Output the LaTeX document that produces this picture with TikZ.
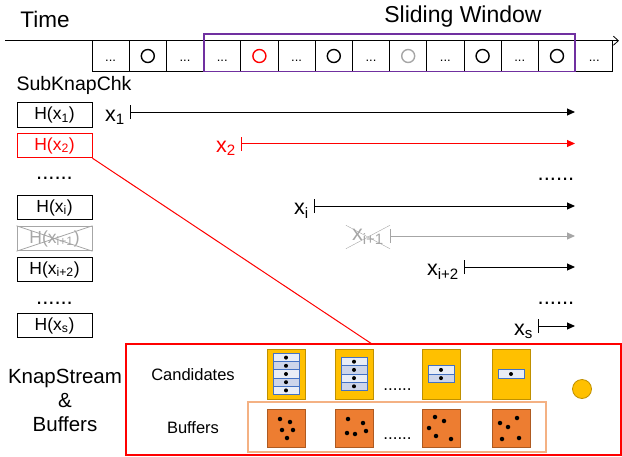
\documentclass[tikz,border=0pt]{standalone}
\usepackage{fontspec}
\setmainfont{Liberation Sans}
\usetikzlibrary{arrows.meta,positioning,shapes.misc}

\definecolor{winpurple}{HTML}{7030A0}
\definecolor{gold}{HTML}{FFC000}
\definecolor{golddark}{HTML}{BF9000}
\definecolor{orng}{HTML}{ED7D31}
\definecolor{orngdark}{HTML}{AE5A21}
\definecolor{salmon}{HTML}{F4B183}
\definecolor{rowblue}{HTML}{4472C4}
\definecolor{rowlight}{HTML}{E9EDF6}
\definecolor{rowdark}{HTML}{CDD5EA}
\definecolor{fade}{HTML}{A6A6A6}

\begin{document}
\begin{tikzpicture}[
  x=1pt, y=-1pt,
  cell/.style={draw, line width=0.8pt, minimum width=37.2pt, minimum height=31pt, inner sep=0pt, text height=10pt, text depth=0pt, font=\fontsize{13}{13}\selectfont},
  ring/.style={circle, draw, line width=1.4pt, minimum size=13pt, inner sep=0pt},
  hbox/.style={draw, line width=0.9pt, minimum width=75pt, minimum height=24.5pt, inner sep=0pt, font=\fontsize{17.5}{17.5}\selectfont},
  lbl/.style={inner sep=1pt, font=\fontsize{21.5}{21.5}\selectfont},
  span/.style={{Bar[width=14pt]}-{Triangle[length=8pt,width=7pt]}, line width=1pt},
  gap/.style={anchor=base, inner sep=0pt, font=\fontsize{22}{22}\selectfont},
  cand/.style={draw=golddark, fill=gold, line width=1pt, minimum width=38pt, minimum height=50pt, inner sep=0pt},
  buf/.style={draw=orngdark, fill=orng, line width=1pt, minimum size=38pt, inner sep=0pt},
  slot/.style={draw=rowblue, line width=1pt, minimum width=26pt, minimum height=8.2pt, inner sep=0pt},
  seed/.style={circle, fill=black, minimum size=4.5pt, inner sep=0pt}
]
\useasboundingbox (0,0) rectangle (622,456);

\node[font=\fontsize{22.5}{22.5}\selectfont] (time) at (45,19) {Time};
\node[font=\fontsize{23}{23}\selectfont] (slide) at (463,17) {Sliding Window};
\coordinate (t0) at (5,40.7);
\coordinate (t1) at (619,40.7);
\draw[line width=0.8pt, -{Straight Barb[length=5pt,width=9pt]}] (t0) -- (t1);

\foreach \i in {1,...,14}
  \node[cell] (c\i) at ({92+37.2*(\i-0.5)},56) {};
\foreach \i in {1,3,4,6,8,10,12,14}
  \node[cell, draw=none] at (c\i) {...};
\foreach \i/\col in {2/black,5/red,7/black,9/fade,11/black,13/black}
  \node[ring, draw=\col] (o\i) at (c\i) {};
\node[draw=winpurple, line width=1.6pt, minimum width=371pt, minimum height=37.5pt, inner sep=0pt] (win) at (389.5,52.75) {};

\node[anchor=west, font=\fontsize{19.5}{19.5}\selectfont] (chk) at (13,85) {SubKnapChk};

\node[hbox] (hx1) at (54.5,115) {H(x\textsubscript{1})};
\node[hbox, draw=red, text=red] (hx2) at (54.5,145.5) {H(x\textsubscript{2})};
\node[gap] (d1) at (54.5,179) {......};
\node[hbox] (hxi) at (54.5,207.5) {H(x\textsubscript{i})};
\node[hbox, draw=fade, text=fade] (hxj) at (54.5,238.5) {H(x\textsubscript{i+1})};
\draw[fade, line width=0.8pt] (hxj.north west) -- (hxj.south east) (hxj.south west) -- (hxj.north east);
\node[hbox] (hxk) at (54.5,269.5) {H(x\textsubscript{i+2})};
\node[gap] (d2) at (54.5,304) {......};
\node[hbox] (hxs) at (54.5,325.5) {H(x\textsubscript{s})};

\coordinate (s1) at (130,112);   \coordinate (e1) at (575,112);
\coordinate (s2) at (241,143.5); \coordinate (e2) at (575,143.5);
\coordinate (si) at (314,206);   \coordinate (ei) at (575,206);
\coordinate (sj) at (390,236);   \coordinate (ej) at (575,236);
\coordinate (sk) at (464,267);   \coordinate (ek) at (575,267);
\coordinate (ss) at (538,326);   \coordinate (es) at (575,326);

\node[lbl, left=4pt of s1, yshift=-5pt] (l1) {x\textsubscript{1}};
\node[lbl, left=4pt of s2, yshift=-5pt, text=red] (l2) {x\textsubscript{2}};
\node[lbl, left=4pt of si, yshift=-5pt] (li) {x\textsubscript{i}};
\node[lbl, left=0pt of sj, yshift=-1pt, text=fade, draw=fade, cross out, inner xsep=6pt, inner ysep=4pt] (lj) {x\textsubscript{i+1}};
\node[lbl, left=4pt of sk, yshift=-5pt] (lk) {x\textsubscript{i+2}};
\node[lbl, left=4pt of ss, yshift=-5pt] (ls) {x\textsubscript{s}};

\draw[span] (s1) -- (e1);
\draw[span, red] (s2) -- (e2);
\draw[span] (si) -- (ei);
\draw[span, fade] (sj) -- (ej);
\draw[span] (sk) -- (ek);
\draw[span] (ss) -- (es);
\node[gap] (d3) at (556,180) {......};
\node[gap] (d4) at (556,304) {......};

\node[draw=red, line width=1.2pt, minimum width=495pt, minimum height=111pt, inner sep=0pt] (knap) at (373.5,399.5) {};
\coordinate (hit) at (372,344);
\draw[red, line width=1pt] (hx2.south east) -- (hit);

\node[align=center, font=\fontsize{20.5}{24}\selectfont] (ks) at (65,400) {KnapStream\\\&\\Buffers};
\node[font=\fontsize{16.5}{16.5}\selectfont] (candtxt) at (193,375) {Candidates};
\node[font=\fontsize{16.5}{16.5}\selectfont] (buftxt) at (193,428) {Buffers};

\node[draw=salmon, line width=1.5pt, minimum width=298pt, minimum height=50pt, inner sep=0pt] (bufrow) at (397,427) {};

\foreach \k/\x/\n in {1/286/5,2/354/4,3/441/2,4/511/1} {
  \node[cand] (cand\k) at (\x,374) {};
  \node[buf] (buf\k) at (\x,428) {};
  \foreach \r in {1,...,\n} {
    \pgfmathsetmacro\yy{374+(\r-(\n+1)/2)*8.2}
    \ifodd\r \def\rowfill{rowlight}\else\def\rowfill{rowdark}\fi
    \node[slot, fill=\rowfill] (slot\k-\r) at (\x,\yy) {};
    \node[seed, minimum size=4pt] at (slot\k-\r) {};
  }
}
\foreach \p in {(280,419),(290,422),(282,430),(293,430),(287,438),
                (348,419),(363,423),(347,433),(355,434),(366,431),
                (435,417),(444,421),(429,428),(436,436),(451,439),
                (517,418),(500,423),(508,427),(502,439),(519,438)}
  \node[seed] at \p {};

\node[gap, font=\fontsize{17}{17}\selectfont] (d5) at (397.5,390.5) {......};
\node[gap, font=\fontsize{17}{17}\selectfont] (d6) at (397.5,439.5) {......};
\node[circle, draw=golddark, fill=gold, minimum size=19pt, inner sep=0pt, line width=0.8pt] (tok) at (582,389) {};
\end{tikzpicture}
\end{document}
